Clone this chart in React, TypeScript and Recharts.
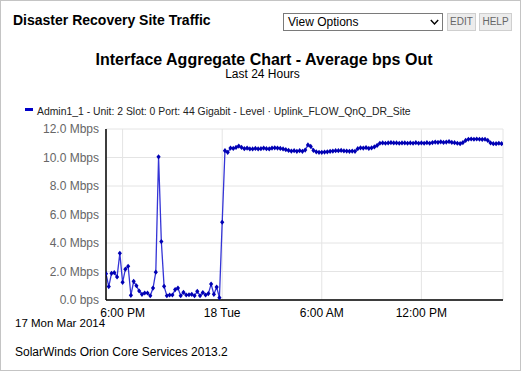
import React from 'react';
import { LineChart, Line, XAxis, YAxis, CartesianGrid } from 'recharts';

// 10-minute samples starting 17 Mar 2014 17:00
const sampleMinutes = 10;

// 17:00 -> 00:00
const eveningMbps = [
  1.85, 0.94, 1.87, 1.92, 1.62, 3.28, 1.24, 2.16, 2.37, 0.33, 1.31, 1.0, 0.63, 0.4, 0.49,
  0.49, 0.3, 0.84, 1.95, 10.05, 4.1, 0.96, 0.3, 0.35, 0.35, 0.73, 0.84, 0.3, 0.54, 0.35,
  0.37, 0.4, 0.3, 0.61, 0.3, 0.52, 0.35, 0.45, 1.12, 0.4, 0.91, 0.16, 5.46,
];

// 00:10 -> 16:50
const dayMbps = [
  10.48, 10.36, 10.66, 10.64, 10.71, 10.8, 10.71, 10.62, 10.66, 10.6, 10.6, 10.64, 10.6,
  10.62, 10.66, 10.62, 10.6, 10.66, 10.68, 10.66, 10.64, 10.6, 10.55, 10.5, 10.45, 10.48,
  10.43, 10.48, 10.43, 10.52, 10.88, 10.78, 10.5, 10.4, 10.36, 10.36, 10.38, 10.4, 10.43,
  10.45, 10.48, 10.48, 10.5, 10.46, 10.45, 10.43, 10.45, 10.43, 10.62, 10.68, 10.66, 10.7,
  10.64, 10.68, 10.74, 10.85, 11.0, 11.02, 11.0, 11.02, 11.05, 11.02, 11.02, 11.0, 11.02,
  11.02, 11.0, 11.02, 11.0, 11.04, 11.0, 11.02, 11.0, 11.04, 11.0, 11.05, 11.08, 11.06,
  11.1, 11.06, 11.08, 11.12, 11.06, 11.04, 11.0, 10.97, 11.05, 11.2, 11.28, 11.3, 11.28,
  11.3, 11.28, 11.27, 11.28, 11.2, 11.02, 10.97, 10.97, 11.0, 10.97,
];

const xTicks = [60, 420, 780, 1140];
const xTickLabels = ['6:00 PM', '18 Tue', '6:00 AM', '12:00 PM'];
const yTicks = [0, 2, 4, 6, 8, 10, 12];

const panelTitle = 'Disaster Recovery Site Traffic';
const chartTitle = 'Interface Aggregate Chart - Average bps Out';
const chartSubtitle = 'Last 24 Hours';
const seriesName = 'Admin1_1 - Unit: 2 Slot: 0 Port: 44 Gigabit - Level \u00b7 Uplink_FLOW_QnQ_DR_Site';
const dateLabel = '17 Mon Mar 2014';
const footer = 'SolarWinds Orion Core Services 2013.2';

const data = [...eveningMbps, ...dayMbps].map((v, i) => ({ t: i * sampleMinutes, v }));

const font = '"Liberation Sans", Arial, sans-serif';

const fmtY = (v: number) => (v === 0 ? '0.0 bps' : `${v.toFixed(1)} Mbps`);
const fmtX = (v: number) => {
  const i = xTicks.indexOf(v);
  return i >= 0 ? xTickLabels[i] : '';
};

const Diamond = (props: any) => {
  const { cx, cy, index } = props;
  if (cx == null || cy == null) return <g key={`d${index}`} />;
  return (
    <path
      key={`d${index}`}
      d={`M${cx},${cy - 2.6}L${cx + 2.1},${cy}L${cx},${cy + 2.6}L${cx - 2.1},${cy}Z`}
      fill="#0000b4"
    />
  );
};

const abs = (s: React.CSSProperties): React.CSSProperties => ({ position: 'absolute', whiteSpace: 'nowrap', ...s });

export default function App() {
  return (
    <div
      style={{
        position: 'absolute',
        left: 0,
        top: 0,
        width: 521,
        height: 371,
        boxSizing: 'border-box',
        border: '1px solid #c4c4c4',
        background: '#fff',
        fontFamily: font,
        overflow: 'hidden',
      }}
    >
      <div style={abs({ left: 0, top: 0, width: 522, height: 371 })}>
        <LineChart
          width={522}
          height={371}
          data={data}
          margin={{ top: 128, right: 20, bottom: 42, left: 5 }}
          style={{ fontFamily: font }}
        >
          <CartesianGrid stroke="#e4e4e4" strokeWidth={1} />
          <XAxis
            dataKey="t"
            type="number"
            domain={[0, 1435]}
            ticks={xTicks}
            tickFormatter={fmtX}
            tickSize={0}
            tickMargin={8}
            height={30}
            axisLine={{ stroke: '#000', strokeWidth: 1.5 }}
            tickLine={false}
            tick={{ fill: '#000', fontSize: 12 }}
            allowDataOverflow
          />
          <YAxis
            type="number"
            domain={[0, 12]}
            ticks={yTicks}
            tickFormatter={fmtY}
            width={100}
            tickSize={0}
            tickMargin={7}
            axisLine={{ stroke: '#000', strokeWidth: 1.5 }}
            tickLine={false}
            tick={{ fill: '#666', fontSize: 12 }}
          />
          <Line
            type="linear"
            dataKey="v"
            stroke="#3434d6"
            strokeWidth={1.3}
            dot={Diamond}
            activeDot={false}
            isAnimationActive={false}
          />
        </LineChart>
      </div>

      <div style={abs({ left: 12, top: 11, fontSize: 14, lineHeight: '16px', fontWeight: 'bold', color: '#000' })}>
        {panelTitle}
      </div>

      <div
        style={abs({
          left: 282,
          top: 12,
          width: 158,
          height: 16,
          border: '1px solid #7a7a7a',
          background: '#fff',
        })}
      >
        <div style={abs({ left: 4, top: 1, fontSize: 12, lineHeight: '14px', color: '#000' })}>View Options</div>
        <svg style={{ position: 'absolute', left: 146, top: 5 }} width={9} height={7}>
          <polyline points="0.8,1 4.5,5 8.2,1" fill="none" stroke="#000" strokeWidth={1.4} />
        </svg>
      </div>

      <div
        style={abs({
          left: 446,
          top: 12,
          width: 27,
          height: 16,
          border: '1px solid #cfcfcf',
          background: '#ececec',
          fontSize: 10,
          lineHeight: '16px',
          color: '#666',
          textAlign: 'center',
        })}
      >
        EDIT
      </div>
      <div
        style={abs({
          left: 478,
          top: 12,
          width: 31,
          height: 16,
          border: '1px solid #cfcfcf',
          background: '#ececec',
          fontSize: 10,
          lineHeight: '16px',
          color: '#666',
          textAlign: 'center',
        })}
      >
        HELP
      </div>

      <div style={abs({ left: 0, width: 526, top: 51, textAlign: 'center', fontSize: 16, lineHeight: '15px', fontWeight: 'bold', color: '#000' })}>
        {chartTitle}
      </div>
      <div style={abs({ left: 0, width: 523, top: 67, textAlign: 'center', fontSize: 12, lineHeight: '12px', color: '#000' })}>
        {chartSubtitle}
      </div>

      <div style={abs({ left: 24, top: 107, width: 8, height: 3, background: '#0000c8' })} />
      <div style={abs({ left: 36, top: 104.5, fontSize: 10.4, lineHeight: '12px', color: '#222' })}>{seriesName}</div>

      <div style={abs({ left: 14, top: 316, fontSize: 11.5, lineHeight: '13px', color: '#000' })}>{dateLabel}</div>
      <div style={abs({ left: 14, top: 344, fontSize: 12, lineHeight: '14px', color: '#000' })}>{footer}</div>
    </div>
  );
}
